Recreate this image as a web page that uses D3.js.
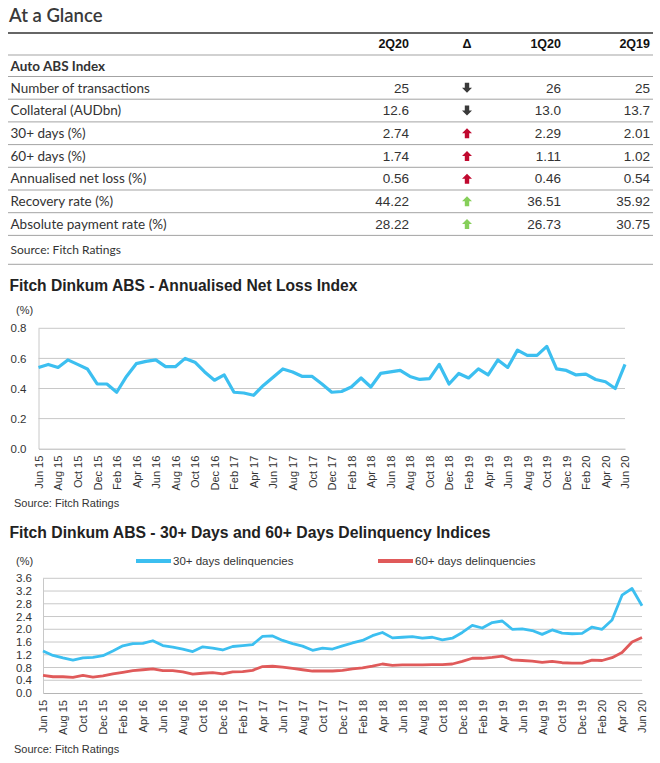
<!DOCTYPE html>
<html>
<head>
<meta charset="utf-8">
<script src="https://cdn.jsdelivr.net/npm/d3@7"></script>
<style>
    body { margin: 0; background: #fff; }
    svg text { fill: #333; }
</style>
</head>
<body>
<div id="page"></div>
<script>
// ---------- data ----------
var tableColumns = ['2Q20', '\u0394', '1Q20', '2Q19'];
var tableGroup = 'Auto ABS Index';
var tableRows = ['Number of transactions', 'Collateral (AUDbn)', '30+ days (%)', '60+ days (%)',
    'Annualised net loss (%)', 'Recovery rate (%)', 'Absolute payment rate (%)'];
var rowDecimals = [0, 1, 2, 2, 2, 2, 2];
var value2Q20 = [25, 12.6, 2.74, 1.74, 0.56, 44.22, 28.22];
var value1Q20 = [26, 13.0, 2.29, 1.11, 0.46, 36.51, 26.73];
var value2Q19 = [25, 13.7, 2.01, 1.02, 0.54, 35.92, 30.75];
var deltaTone = ['neutral', 'neutral', 'bad', 'bad', 'bad', 'good', 'good'];

// monthly, Jun 15 .. Jun 20
var netLoss = [0.54, 0.56, 0.54, 0.59, 0.56, 0.53, 0.43, 0.43, 0.375, 0.48,
    0.565, 0.58, 0.59, 0.545, 0.545, 0.60, 0.575, 0.51, 0.455, 0.49,
    0.375, 0.37, 0.355, 0.42, 0.475, 0.53, 0.51, 0.48, 0.48, 0.43,
    0.375, 0.38, 0.41, 0.47, 0.41, 0.50, 0.51, 0.52, 0.48, 0.46,
    0.465, 0.56, 0.43, 0.50, 0.47, 0.53, 0.49, 0.59, 0.54, 0.655,
    0.62, 0.62, 0.68, 0.53, 0.52, 0.49, 0.495, 0.46, 0.445, 0.40,
    0.56];
var dq30 = [1.32, 1.18, 1.10, 1.03, 1.10, 1.12, 1.17, 1.32, 1.48, 1.55, 1.56, 1.64, 1.49, 1.44, 1.38, 1.30,
    1.45, 1.41, 1.35, 1.46, 1.49, 1.52, 1.78, 1.79, 1.65, 1.55, 1.47, 1.34, 1.41, 1.38, 1.48, 1.57,
    1.65, 1.80, 1.90, 1.73, 1.75, 1.77, 1.72, 1.75, 1.67, 1.72, 1.90, 2.12, 2.04, 2.21, 2.26, 2.00,
    2.01, 1.96, 1.84, 1.98, 1.88, 1.86, 1.87, 2.07, 2.00, 2.29, 3.07, 3.28, 2.74];
var dq60 = [0.55, 0.51, 0.51, 0.49, 0.55, 0.50, 0.54, 0.60, 0.65, 0.70, 0.73, 0.76, 0.70, 0.70, 0.66, 0.59,
    0.62, 0.64, 0.60, 0.66, 0.67, 0.71, 0.83, 0.84, 0.81, 0.77, 0.73, 0.69, 0.69, 0.69, 0.71, 0.76,
    0.79, 0.84, 0.91, 0.87, 0.88, 0.88, 0.88, 0.89, 0.89, 0.91, 0.99, 1.09, 1.09, 1.12, 1.16, 1.04,
    1.02, 1.00, 0.96, 0.99, 0.95, 0.94, 0.94, 1.03, 1.02, 1.11, 1.27, 1.60, 1.74];
var lossTicks = [0, 0.2, 0.4, 0.6, 0.8];
var dqTicks = [0, 0.4, 0.8, 1.2, 1.6, 2.0, 2.4, 2.8, 3.2, 3.6];
var seriesNames = ['30+ days delinquencies', '60+ days delinquencies'];

var fmtMonth = d3.timeFormat('%b %y');
var months = d3.timeMonth.range(new Date(2015, 5, 1), new Date(2020, 6, 1)).map(fmtMonth);

// ---------- page ----------
var fontTable = 'Lato, "Open Sans", sans-serif';
var fontChart = '"Liberation Sans", Arial, sans-serif';
var blue = '#3cbff0', red = '#e05a5a', grid = '#c8c8c8';

var svg = d3.select('#page').append('svg')
    .attr('width', 660)
    .attr('height', 763);

// ---------- table ----------
svg.append('text')
    .attr('x', 9).attr('y', 22)
    .style('font-family', fontTable).style('font-size', '18.5px').style('font-weight', '600')
    .style('fill', '#3a3a3a')
    .text('At a Glance');

svg.append('line')
    .attr('x1', 8).attr('x2', 653).attr('y1', 33).attr('y2', 33)
    .attr('stroke', '#333').attr('stroke-width', 1.6);

var colX = [409, 467, 561, 650];
svg.selectAll('.colhead')
    .data(tableColumns)
    .enter().append('text')
    .attr('class', 'colhead')
    .attr('x', function(d, i) { return colX[i]; })
    .attr('y', 47.5)
    .attr('text-anchor', function(d, i) { return i === 1 ? 'middle' : 'end'; })
    .style('font-family', fontChart).style('font-size', '12.5px').style('font-weight', 'bold')
    .style('fill', '#111')
    .text(function(d) { return d; });

var rowTop = 76.5, rowH = 22.7;
var ruleY = [55].concat(d3.range(tableRows.length + 1).map(function(i) { return rowTop + i * rowH; }), [264.3]);
svg.selectAll('.rule')
    .data(ruleY)
    .enter().append('line')
    .attr('class', 'rule')
    .attr('x1', 8).attr('x2', 653)
    .attr('y1', function(d) { return d; }).attr('y2', function(d) { return d; })
    .attr('stroke', '#999').attr('stroke-width', 0.9);

svg.append('text')
    .attr('x', 10.5).attr('y', 71)
    .style('font-family', fontTable).style('font-size', '13.5px').style('font-weight', 'bold')
    .text(tableGroup);

var rows = svg.selectAll('.row')
    .data(tableRows)
    .enter().append('g')
    .attr('class', 'row')
    .attr('transform', function(d, i) { return 'translate(0,' + (rowTop + rowH * (i + 0.5)) + ')'; });

rows.append('text')
    .attr('x', 10.5).attr('y', 4.8)
    .style('font-family', fontTable).style('font-size', '13.5px')
    .text(function(d) { return d; });

[value2Q20, value1Q20, value2Q19].forEach(function(arr, k) {
    var cx = [colX[0], colX[2], colX[3]][k];
    rows.append('text')
        .attr('x', cx).attr('y', 4.8)
        .attr('text-anchor', 'end')
        .style('font-family', fontChart).style('font-size', '13.5px')
        .text(function(d, i) { return d3.format('.' + rowDecimals[i] + 'f')(arr[i]); });
});

var toneColor = { neutral: '#3a3a3a', bad: '#c0092f', good: '#86cf5a' };
rows.append('path')
    .attr('transform', function(d, i) {
        var up = value2Q20[i] > value1Q20[i];
        return 'translate(' + colX[1] + ',0)' + (up ? '' : ' scale(1,-1)');
    })
    .attr('d', 'M0,-5 L5,0 L2.2,0 L2.2,5 L-2.2,5 L-2.2,0 L-5,0 Z')
    .attr('fill', function(d, i) { return toneColor[deltaTone[i]]; });

svg.append('text')
    .attr('x', 10.5).attr('y', 254)
    .style('font-family', fontTable).style('font-size', '12px')
    .text('Source: Fitch Ratings');

// ---------- line charts ----------
function lineChart(cfg) {
    var g = svg.append('g');

    var x = d3.scalePoint().domain(months).range([cfg.left, cfg.right]);
    var y = d3.scaleLinear().domain([0, d3.max(cfg.ticks)]).range([cfg.bottom, cfg.top]);

    g.append('text')
        .attr('x', 9.4).attr('y', cfg.titleY)
        .attr('textLength', cfg.titleW).attr('lengthAdjust', 'spacingAndGlyphs')
        .style('font-family', fontChart).style('font-size', '16px').style('font-weight', 'bold')
        .style('fill', '#222')
        .text(cfg.title);

    g.append('text')
        .attr('x', 16).attr('y', cfg.unitY)
        .style('font-family', fontChart).style('font-size', '11px')
        .text('(%)');

    g.selectAll('.grid')
        .data(cfg.ticks.filter(function(t) { return t > 0; }))
        .enter().append('line')
        .attr('class', 'grid')
        .attr('x1', cfg.left).attr('x2', cfg.right)
        .attr('y1', function(d) { return y(d); }).attr('y2', function(d) { return y(d); })
        .attr('stroke', grid).attr('stroke-width', 1);

    var yAxis = g.append('g')
        .attr('transform', 'translate(' + cfg.left + ',0)')
        .call(d3.axisLeft(y).tickValues(cfg.ticks).tickFormat(d3.format('.1f'))
            .tickSize(0).tickSizeOuter(0).tickPadding(cfg.yPad));
    yAxis.select('.domain').attr('stroke', grid);
    yAxis.selectAll('text')
        .style('font-family', fontChart).style('font-size', '11.5px').style('fill', '#333');

    var xAxis = g.append('g')
        .attr('transform', 'translate(0,' + cfg.bottom + ')')
        .call(d3.axisBottom(x).tickValues(months.filter(function(d, i) { return i % 2 === 0; }))
            .tickSize(0).tickSizeOuter(0));
    xAxis.select('.domain').attr('stroke', '#b5b5b5');
    xAxis.selectAll('text')
        .attr('transform', 'rotate(-90)')
        .attr('text-anchor', 'end')
        .attr('x', -7).attr('y', 0).attr('dy', '0.35em')
        .style('font-family', fontChart).style('font-size', '11px').style('fill', '#333');

    var line = d3.line()
        .x(function(d, i) { return x(months[i]); })
        .y(function(d) { return y(d); })
        .curve(d3.curveLinear);

    cfg.series.forEach(function(s) {
        g.append('path')
            .datum(s.values)
            .attr('fill', 'none')
            .attr('stroke', s.color)
            .attr('stroke-width', cfg.lineW)
            .attr('stroke-linejoin', 'round')
            .attr('d', line);
    });

    if (cfg.legend) {
        var lg = g.selectAll('.legend')
            .data(cfg.series)
            .enter().append('g')
            .attr('class', 'legend')
            .attr('transform', function(d, i) { return 'translate(' + cfg.legend[i] + ',' + (cfg.unitY - 4) + ')'; });
        lg.append('line')
            .attr('x1', 0).attr('x2', 35)
            .attr('stroke', function(d) { return d.color; })
            .attr('stroke-width', 4);
        lg.append('text')
            .attr('x', 37).attr('y', 4)
            .style('font-family', fontChart).style('font-size', '11.5px')
            .text(function(d) { return d.name; });
    }

    g.append('text')
        .attr('x', 14).attr('y', cfg.sourceY)
        .style('font-family', fontChart).style('font-size', '11px')
        .text('Source: Fitch Ratings');
}

lineChart({
    title: 'Fitch Dinkum ABS - Annualised Net Loss Index',
    titleY: 291, titleW: 348, unitY: 313.5,
    left: 38.5, right: 625, top: 328.3, bottom: 448.7, yPad: 12,
    ticks: lossTicks, lineW: 3.2,
    series: [{ name: 'Annualised net loss', color: blue, values: netLoss }],
    sourceY: 507
});

lineChart({
    title: 'Fitch Dinkum ABS - 30+ Days and 60+ Days Delinquency Indices',
    titleY: 538, titleW: 481, unitY: 565,
    left: 43, right: 642, top: 578.3, bottom: 693, yPad: 11,
    ticks: dqTicks, lineW: 2.8,
    series: [{ name: seriesNames[0], color: blue, values: dq30 },
             { name: seriesNames[1], color: red, values: dq60 }],
    legend: [136, 378],
    sourceY: 753
});
</script>
</body>
</html>
